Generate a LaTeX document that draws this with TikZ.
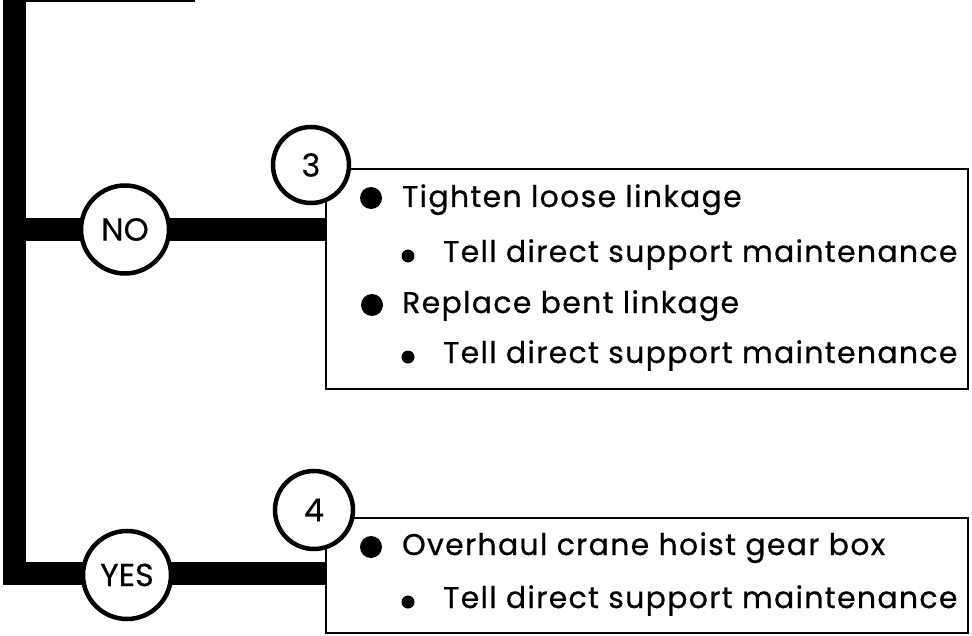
\documentclass[tikz,border=0pt]{standalone}
\usepackage{fontspec}
\setmainfont{Poppins}
\newfontfamily\boxfont{Poppins}[LetterSpace=4.5, FakeBold=0.7]
\newfontfamily\ringfont{Poppins}[FakeBold=0.3]
\begin{document}
\begin{tikzpicture}[x=1bp,y=-1bp,
  bar/.style={line width=23bp},
  ring/.style={circle,draw,line width=4.5bp,fill=white,inner sep=0pt,font=\ringfont\fontsize{32}{36}\selectfont},
  boxline/.style={line width=2bp},
  bigdot/.style={circle,fill=black,inner sep=0pt,minimum size=22bp},
  smalldot/.style={circle,fill=black,inner sep=0pt,minimum size=13bp},
  txt/.style={anchor=base west,inner sep=0pt,font=\boxfont\fontsize{30}{34}\selectfont}]
\useasboundingbox (0,0) rectangle (972,636);
% spine
\coordinate (top) at (14.5,-2);
\coordinate (bend) at (14.5,573.5);
\coordinate (noL) at (3,229.5);
\coordinate (noR) at (326,229.5);
\coordinate (yesR) at (326,573.5);
\coordinate (tl) at (26,1);
\coordinate (tr) at (195,1);
\draw[line width=1.5bp] (tl) -- (tr);
\draw[bar] (top) -- (bend) -- ([xshift=-11.5bp]bend);
\draw[bar] (bend) -- (yesR);
\draw[bar] (noL) -- (noR);
% boxes
\draw[boxline] (326,169) rectangle (968,389);
\draw[boxline] (326,518) rectangle (968,633);
% circles
\node[ring,minimum size=88bp] (no) at (125,229.5) {NO};
\node[ring,minimum size=88bp] (yes) at (127,575) {YES};
\node[ring,minimum size=76bp] (c3) at (311,165) {3};
\node[ring,minimum size=78bp] (c4) at (314,510) {4};
% box 3 text
\node[bigdot] (b1) at (371,198) {};
\node[txt] (t1) at (402,207) {Tighten loose linkage};
\node[smalldot] (s1) at (408,256) {};
\node[txt] (t2) at (443,262) {Tell direct support maintenance};
\node[bigdot] (b2) at (372,305) {};
\node[txt] (t3) at (402,313) {Replace bent linkage};
\node[smalldot] (s2) at (408,357) {};
\node[txt] (t4) at (443,363) {Tell direct support maintenance};
% box 4 text
\node[bigdot] (b3) at (371,547) {};
\node[txt] (t5) at (402,555) {Overhaul crane hoist gear box};
\node[smalldot] (s3) at (408,602) {};
\node[txt] (t6) at (443,608) {Tell direct support maintenance};
\end{tikzpicture}
\end{document}
